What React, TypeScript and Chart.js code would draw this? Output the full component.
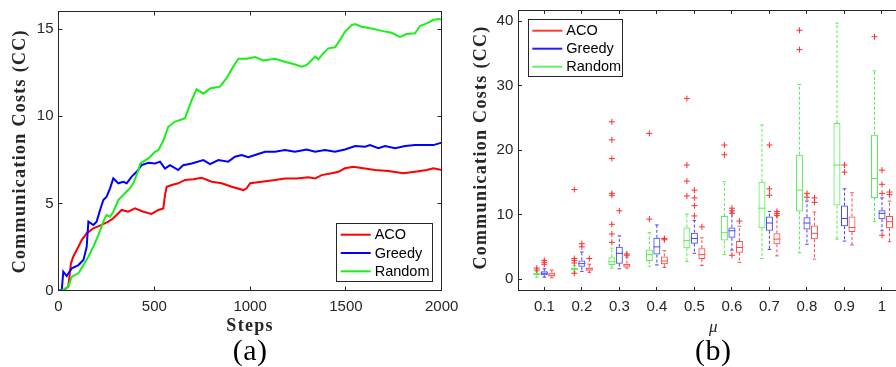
import React, { useEffect, useRef } from 'react';
import { Chart, registerables } from 'chart.js';

Chart.register(...registerables);

// ---------------- (a) line chart data ----------------
const ACO_STEPS = [0, 30, 51, 65, 77, 104, 121, 147, 182, 225, 260, 286, 330, 364, 399, 443, 486, 521, 547, 556, 565, 591, 625, 660, 704, 747, 800, 852, 904, 965, 982, 1000, 1061, 1130, 1182, 1243, 1304, 1339, 1374, 1426, 1461, 1495, 1539, 1591, 1652, 1721, 1800, 1861, 1922, 1956, 2000];
const ACO_CC = [0, 0.05, 0.23, 1.57, 1.95, 2.52, 2.9, 3.29, 3.58, 3.77, 3.96, 4.15, 4.63, 4.53, 4.72, 4.53, 4.4, 4.63, 4.72, 5.5, 5.96, 6.06, 6.16, 6.35, 6.39, 6.48, 6.25, 6.16, 5.96, 5.77, 5.87, 6.16, 6.25, 6.35, 6.44, 6.44, 6.5, 6.44, 6.63, 6.73, 6.82, 7.02, 7.11, 7.02, 6.92, 6.86, 6.73, 6.82, 6.92, 7.02, 6.92];

const GREEDY_STEPS = [0, 17, 25, 43, 69, 104, 130, 147, 156, 182, 199, 217, 234, 251, 269, 286, 312, 338, 356, 382, 408, 434, 469, 504, 530, 556, 582, 625, 651, 695, 756, 791, 834, 886, 921, 956, 991, 1026, 1078, 1130, 1182, 1234, 1295, 1339, 1391, 1443, 1495, 1548, 1600, 1626, 1670, 1704, 1757, 1809, 1861, 1913, 1956, 2000];
const GREEDY_CC = [0, 0.04, 1.09, 0.84, 1.28, 1.47, 1.76, 2.5, 3.96, 3.77, 3.96, 4.63, 5.2, 5.39, 5.87, 6.44, 6.16, 6.25, 6.16, 6.54, 6.82, 7.2, 7.34, 7.3, 7.4, 7.0, 7.2, 6.92, 7.2, 7.3, 7.49, 7.26, 7.49, 7.4, 7.68, 7.78, 7.65, 7.78, 7.97, 7.97, 8.07, 7.97, 8.1, 7.97, 8.07, 7.97, 8.1, 8.3, 8.26, 8.35, 8.17, 8.3, 8.17, 8.3, 8.35, 8.35, 8.35, 8.49];

const RANDOM_STEPS = [0, 17, 51, 69, 104, 130, 156, 182, 208, 234, 251, 269, 286, 312, 338, 364, 391, 417, 427, 469, 504, 521, 547, 573, 608, 660, 695, 721, 756, 791, 843, 878, 912, 939, 982, 1026, 1069, 1130, 1191, 1226, 1269, 1296, 1339, 1356, 1382, 1408, 1443, 1469, 1495, 1530, 1548, 1582, 1635, 1687, 1739, 1782, 1817, 1861, 1887, 1922, 1956, 1982, 2000];
const RANDOM_CC = [0, 0, 0.23, 0.8, 1.0, 1.47, 1.95, 2.52, 3.19, 3.96, 4.34, 4.24, 4.53, 5.2, 5.49, 5.77, 6.16, 6.92, 7.3, 7.59, 7.97, 8.06, 8.6, 9.4, 9.7, 9.88, 10.93, 11.55, 11.3, 11.6, 11.7, 12.2, 12.85, 13.3, 13.3, 13.4, 13.2, 13.3, 13.1, 13.0, 12.85, 12.95, 13.42, 13.27, 13.61, 13.9, 13.96, 14.37, 14.85, 15.23, 15.29, 15.14, 15.04, 14.9, 14.79, 14.56, 14.72, 14.76, 15.18, 15.33, 15.52, 15.58, 15.55];

const STEP_TICKS = [0, 500, 1000, 1500, 2000];
const STEP_LABELS = ['0', '500', '1000', '1500', '2000'];
const CC_TICKS_A = [0, 5, 10, 15];
const CC_LABELS_A = ['0', '5', '10', '15'];

// ---------------- (b) box plot data ----------------
const MU = [0.1, 0.2, 0.3, 0.4, 0.5, 0.6, 0.7, 0.8, 0.9, 1.0];
const MU_LABELS = ['0.1', '0.2', '0.3', '0.4', '0.5', '0.6', '0.7', '0.8', '0.9', '1'];
const CC_TICKS_B = [0, 10, 20, 30, 40];
const CC_LABELS_B = ['0', '10', '20', '30', '40'];

const RANDOM_Q1 = [0.6, 1.4, 2.2, 2.8, 4.8, 6.0, 7.9, 10.5, 11.4, 12.6];
const RANDOM_MED = [0.8, 1.6, 2.7, 3.8, 6.0, 7.2, 11.0, 13.8, 17.7, 15.6];
const RANDOM_Q3 = [0.9, 1.7, 3.4, 4.6, 8.0, 9.8, 15.1, 19.3, 24.2, 22.4];
const RANDOM_LO = [0.3, 1.1, 1.7, 2.0, 2.7, 3.8, 3.2, 4.1, 6.2, 8.9];
const RANDOM_HI = [1.2, 2.1, 4.8, 7.2, 10.1, 15.1, 23.9, 30.2, 39.7, 32.3];
const RANDOM_OUT = [[1.7, 1.4], [13.9, 3.2, 2.9, 2.5, 0.9], [24.4, 21.6, 18.7, 13.3, 13.0, 8.5, 7.0, 5.7], [22.6, 9.3], [28.0, 17.7, 15.2, 12.9], [20.8, 19.3], [], [38.6, 35.6], [], [37.6]];

const GREEDY_Q1 = [0.6, 1.9, 2.4, 3.8, 5.5, 6.4, 7.5, 7.7, 8.2, 9.3];
const GREEDY_MED = [0.9, 2.4, 4.0, 5.0, 6.3, 7.5, 8.7, 8.7, 9.4, 10.2];
const GREEDY_Q3 = [1.2, 2.9, 5.0, 6.4, 7.2, 8.0, 9.7, 9.6, 11.4, 10.7];
const GREEDY_LO = [0.3, 1.2, 1.6, 2.2, 4.0, 4.5, 4.6, 5.4, 5.9, 7.5];
const GREEDY_HI = [1.6, 4.2, 6.7, 8.4, 9.1, 10.4, 10.5, 12.1, 14.0, 12.6];
const GREEDY_OUT = [[2.9, 2.6, 2.3], [5.5, 5.0], [10.6], [], [13.8, 12.6, 11.4, 9.8], [11.0, 10.6, 10.2, 3.7], [20.8, 14.0, 13.0], [13.3, 12.7], [17.7, 16.6], [16.9, 14.7, 13.3, 6.8]];

const ACO_Q1 = [0.4, 1.3, 1.8, 2.3, 3.1, 4.1, 5.4, 6.2, 7.3, 7.9];
const ACO_MED = [0.6, 1.6, 2.2, 2.8, 3.8, 4.9, 6.2, 7.1, 8.0, 8.9];
const ACO_Q3 = [1.0, 1.8, 2.4, 3.5, 4.8, 5.9, 7.1, 8.3, 9.7, 9.8];
const ACO_LO = [0.2, 1.0, 1.7, 1.8, 2.1, 2.6, 3.6, 3.1, 5.3, 5.8];
const ACO_HI = [1.4, 2.3, 3.4, 4.4, 6.4, 8.2, 9.8, 10.4, 13.4, 12.1];
const ACO_OUT = [[], [3.2], [3.9, 3.7], [6.3, 6.1], [8.1], [9.0], [10.5, 10.2, 9.9], [12.6, 11.9], [], [13.5, 13.1]];

// ---------------- styles ----------------
const FRAME = '#262626';
const LINE_RED = '#ff0000';
const LINE_BLUE = '#0000ff';
const LINE_GREEN = '#19f019';
const BOX_RED = '#ff4a4a';
const BOX_BLUE = '#4444ff';
const BOX_GREEN = '#55ee55';
const OUT_COLOR = '#ff3030';
const SANS = '"Liberation Sans", Arial, sans-serif';
const SERIF = '"Liberation Serif", "Times New Roman", serif';

const BOX_SERIES = [
  { label: 'Random', color: BOX_GREEN, q1: RANDOM_Q1, med: RANDOM_MED, q3: RANDOM_Q3, lo: RANDOM_LO, hi: RANDOM_HI, out: RANDOM_OUT },
  { label: 'Greedy', color: BOX_BLUE, q1: GREEDY_Q1, med: GREEDY_MED, q3: GREEDY_Q3, lo: GREEDY_LO, hi: GREEDY_HI, out: GREEDY_OUT },
  { label: 'ACO', color: BOX_RED, q1: ACO_Q1, med: ACO_MED, q3: ACO_Q3, lo: ACO_LO, hi: ACO_HI, out: ACO_OUT },
];

function line(ctx: CanvasRenderingContext2D, x1: number, y1: number, x2: number, y2: number) {
  ctx.beginPath();
  ctx.moveTo(x1, y1);
  ctx.lineTo(x2, y2);
  ctx.stroke();
}

function crisp(v: number) {
  return Math.floor(v) + 0.5;
}

function drawFrame(chart: any, xTicks: number[], yTicks: number[], tickLen: number) {
  const { ctx, chartArea: ca, scales } = chart;
  const l = crisp(ca.left), r = crisp(ca.right), t = crisp(ca.top), b = crisp(ca.bottom);
  ctx.save();
  ctx.strokeStyle = FRAME;
  ctx.lineWidth = 1;
  ctx.setLineDash([]);
  ctx.strokeRect(l, t, r - l, b - t);
  xTicks.forEach((v) => {
    const x = crisp(scales.x.getPixelForValue(v));
    if (Math.abs(x - l) < 1 || Math.abs(x - r) < 1) return;
    line(ctx, x, b, x, b - tickLen);
    line(ctx, x, t, x, t + tickLen);
  });
  yTicks.forEach((v) => {
    const y = crisp(scales.y.getPixelForValue(v));
    if (Math.abs(y - t) < 1 || Math.abs(y - b) < 1) return;
    line(ctx, l, y, l + tickLen, y);
    line(ctx, r, y, r - tickLen, y);
  });
  ctx.restore();
}

function drawYTitle(ctx: CanvasRenderingContext2D, text: string, x: number, cy: number) {
  ctx.save();
  ctx.translate(x, cy);
  ctx.rotate(-Math.PI / 2);
  ctx.font = `bold 18px ${SERIF}`;
  (ctx as any).letterSpacing = '1.3px';
  ctx.fillStyle = FRAME;
  ctx.textAlign = 'center';
  ctx.textBaseline = 'middle';
  ctx.fillText(text, 0, 0);
  ctx.restore();
}

function drawLegend(ctx: CanvasRenderingContext2D, left: number, top: number, w: number, h: number, items: { label: string; color: string }[], rowTop: number, rowGap: number) {
  ctx.save();
  ctx.fillStyle = '#ffffff';
  ctx.fillRect(left, top, w, h);
  ctx.strokeStyle = FRAME;
  ctx.lineWidth = 1;
  ctx.strokeRect(crisp(left), crisp(top), Math.round(w), Math.round(h));
  ctx.font = `14.5px ${SANS}`;
  ctx.textBaseline = 'middle';
  ctx.textAlign = 'left';
  items.forEach((it, i) => {
    const y = top + rowTop + i * rowGap;
    ctx.strokeStyle = it.color;
    ctx.lineWidth = 2;
    line(ctx, left + 4, y, left + 34, y);
    ctx.fillStyle = '#000000';
    ctx.fillText(it.label, left + 38, y + 0.5);
  });
  ctx.restore();
}

const tickFont = { family: SANS, size: 15 };

export default function App() {
  const refA = useRef<HTMLCanvasElement>(null);
  const refB = useRef<HTMLCanvasElement>(null);

  useEffect(() => {
    const pluginA = {
      id: 'frameA',
      afterDraw(chart: any) {
        const { ctx, chartArea: ca } = chart;
        drawFrame(chart, STEP_TICKS, CC_TICKS_A, 4);
        drawLegend(ctx, ca.right - 105, ca.bottom - 67, 96, 57.5, [
          { label: 'ACO', color: LINE_RED },
          { label: 'Greedy', color: LINE_BLUE },
          { label: 'Random', color: LINE_GREEN },
        ], 11, 18.3);
        drawYTitle(ctx, 'Communication Costs (CC)', 20.5, (ca.top + ca.bottom) / 2);
        ctx.save();
        ctx.fillStyle = FRAME;
        ctx.textAlign = 'center';
        ctx.textBaseline = 'middle';
        ctx.font = `bold 18px ${SERIF}`;
        (ctx as any).letterSpacing = '1.3px';
        const cx = (ca.left + ca.right) / 2;
        ctx.fillText('Steps', cx, 326.5);
        (ctx as any).letterSpacing = '0.5px';
        ctx.font = `30px ${SERIF}`;
        ctx.fillStyle = '#000000';
        ctx.fillText('(a)', cx, 352);
        ctx.restore();
      },
    };

    const pluginB = {
      id: 'boxB',
      afterDatasetsDraw(chart: any) {
        const { ctx, chartArea: ca } = chart;
        const y = chart.scales.y;
        ctx.save();
        ctx.beginPath();
        ctx.rect(ca.left, ca.top, ca.right - ca.left, ca.bottom - ca.top);
        ctx.clip();
        ctx.lineWidth = 1;
        BOX_SERIES.forEach((s, d) => {
          const meta = chart.getDatasetMeta(d);
          meta.data.forEach((el: any, i: number) => {
            const x = el.x;
            const w = el.width;
            const yq1 = y.getPixelForValue(s.q1[i]);
            const yq3 = y.getPixelForValue(s.q3[i]);
            const ymed = y.getPixelForValue(s.med[i]);
            const ylo = y.getPixelForValue(s.lo[i]);
            const yhi = y.getPixelForValue(s.hi[i]);
            ctx.strokeStyle = s.color;
            ctx.setLineDash([3, 2]);
            line(ctx, x, yq3, x, yhi);
            line(ctx, x, yq1, x, ylo);
            ctx.setLineDash([]);
            line(ctx, x - w / 4, yhi, x + w / 4, yhi);
            line(ctx, x - w / 4, ylo, x + w / 4, ylo);
            line(ctx, x - w / 2, ymed, x + w / 2, ymed);
            ctx.strokeStyle = OUT_COLOR;
            s.out[i].forEach((v: number) => {
              const yy = y.getPixelForValue(v);
              line(ctx, x - 3, yy, x + 3, yy);
              line(ctx, x, yy - 3, x, yy + 3);
            });
          });
        });
        ctx.restore();
      },
      afterDraw(chart: any) {
        const { ctx, chartArea: ca } = chart;
        drawFrame(chart, MU, CC_TICKS_B, 3.5);
        drawLegend(ctx, ca.left + 10, ca.top + 9, 94, 56.7, [
          { label: 'ACO', color: '#ff3838' },
          { label: 'Greedy', color: '#2020ff' },
          { label: 'Random', color: '#66f066' },
        ], 11.4, 18);
        drawYTitle(ctx, 'Communication Costs (CC)', 31.7, (ca.top + ca.bottom) / 2 - 3);
        ctx.save();
        ctx.fillStyle = FRAME;
        ctx.textAlign = 'center';
        ctx.textBaseline = 'middle';
        const cx = (ca.left + ca.right) / 2;
        ctx.font = `italic 17px ${SERIF}`;
        ctx.fillText('\u03bc', cx, 328);
        (ctx as any).letterSpacing = '0.5px';
        ctx.font = `30px ${SERIF}`;
        ctx.fillStyle = '#000000';
        ctx.fillText('(b)', cx, 352);
        ctx.restore();
      },
    };

    const chartA = new Chart(refA.current!, {
      type: 'line',
      data: {
        datasets: [
          { label: 'Random', data: RANDOM_STEPS.map((s, i) => ({ x: s, y: RANDOM_CC[i] })), borderColor: LINE_GREEN, borderWidth: 2, pointRadius: 0, tension: 0, fill: false },
          { label: 'Greedy', data: GREEDY_STEPS.map((s, i) => ({ x: s, y: GREEDY_CC[i] })), borderColor: LINE_BLUE, borderWidth: 2, pointRadius: 0, tension: 0, fill: false },
          { label: 'ACO', data: ACO_STEPS.map((s, i) => ({ x: s, y: ACO_CC[i] })), borderColor: LINE_RED, borderWidth: 2, pointRadius: 0, tension: 0, fill: false },
        ],
      },
      options: {
        animation: false,
        responsive: true,
        maintainAspectRatio: false,
        layout: { padding: { left: 0, right: 28.3, top: 11.7, bottom: 0 } },
        plugins: { legend: { display: false }, tooltip: { enabled: false } },
        scales: {
          x: {
            type: 'linear', min: 0, max: 2000,
            grid: { display: false, drawTicks: false },
            border: { display: false },
            ticks: { font: tickFont, color: FRAME, padding: 7, maxRotation: 0, callback: (_v: any, i: number) => STEP_LABELS[i] },
            afterBuildTicks: (s: any) => { s.ticks = STEP_TICKS.map((v) => ({ value: v })); },
            afterFit: (s: any) => { s.height = 76.3; s.paddingLeft = 0; s.paddingRight = 0; },
          },
          y: {
            type: 'linear', min: 0, max: 16,
            grid: { display: false, drawTicks: false },
            border: { display: false },
            ticks: { font: tickFont, color: FRAME, padding: 5, callback: (_v: any, i: number) => CC_LABELS_A[i] },
            afterBuildTicks: (s: any) => { s.ticks = CC_TICKS_A.map((v) => ({ value: v })); },
            afterFit: (s: any) => { s.width = 58.5; s.paddingTop = 0; s.paddingBottom = 0; },
          },
        },
      } as any,
      plugins: [pluginA],
    });

    const chartB = new Chart(refB.current!, {
      type: 'bar',
      data: {
        datasets: BOX_SERIES.map((s) => ({
          label: s.label,
          data: MU.map((m, i) => ({ x: m, y: [s.q1[i], s.q3[i]] })),
          backgroundColor: 'rgba(0,0,0,0)',
          borderColor: s.color,
          borderWidth: 1,
          borderSkipped: false,
          categoryPercentage: 0.6,
          barPercentage: 0.93,
        })),
      },
      options: {
        animation: false,
        responsive: true,
        maintainAspectRatio: false,
        layout: { padding: { left: 0, right: 12, top: 10.3, bottom: 0 } },
        plugins: { legend: { display: false }, tooltip: { enabled: false } },
        scales: {
          x: {
            type: 'linear', min: 0.0307, max: 1.0693, offset: false,
            grid: { display: false, drawTicks: false },
            border: { display: false },
            ticks: { font: tickFont, color: FRAME, padding: 7, maxRotation: 0, callback: (_v: any, i: number) => MU_LABELS[i] },
            afterBuildTicks: (s: any) => { s.ticks = MU.map((v) => ({ value: v })); },
            afterFit: (s: any) => { s.height = 76.3; s.paddingLeft = 0; s.paddingRight = 0; },
          },
          y: {
            type: 'linear', min: -1.8, max: 41.7,
            grid: { display: false, drawTicks: false },
            border: { display: false },
            ticks: { font: tickFont, color: FRAME, padding: 5, callback: (_v: any, i: number) => CC_LABELS_B[i] },
            afterBuildTicks: (s: any) => { s.ticks = CC_TICKS_B.map((v) => ({ value: v })); },
            afterFit: (s: any) => { s.width = 68.3; s.paddingTop = 0; s.paddingBottom = 0; },
          },
        },
      } as any,
      plugins: [pluginB],
    });

    return () => {
      chartA.destroy();
      chartB.destroy();
    };
  }, []);

  return (
    <div style={{ position: 'fixed', left: 0, top: 0, width: 896, height: 367, overflow: 'hidden', background: '#ffffff' }}>
      <div style={{ position: 'absolute', left: 0, top: 0, width: 470, height: 367 }}>
        <canvas ref={refA} />
      </div>
      <div style={{ position: 'absolute', left: 450, top: 0, width: 470, height: 367 }}>
        <canvas ref={refB} />
      </div>
    </div>
  );
}
